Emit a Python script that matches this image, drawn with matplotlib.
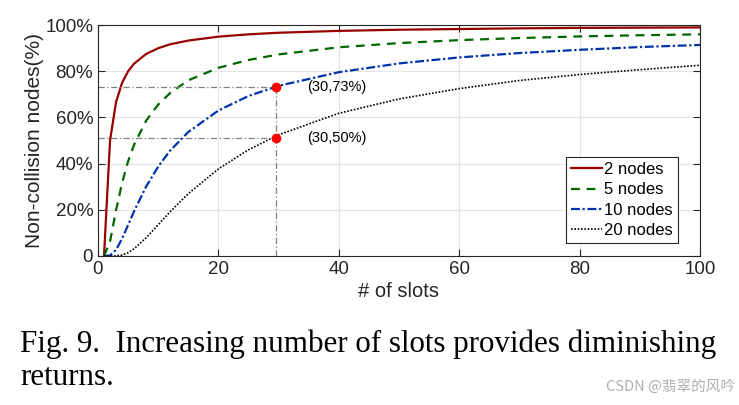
import matplotlib.pyplot as plt

# values
slots = [1, 2, 3, 4, 5, 6, 8, 10, 12, 15, 20, 25, 30, 40, 50, 60, 70, 80, 90, 100]
nodes2 = [0, 50, 66.7, 75, 80, 83.3, 87.5, 90, 91.7, 93.3, 95, 96, 96.7, 97.5, 98, 98.3, 98.6, 98.8, 98.9, 99]
nodes5 = [0, 6.3, 19.8, 31.6, 41, 48.2, 58.6, 65.6, 70.6, 76.1, 81.5, 84.9, 87.3, 90.4, 92.2, 93.5, 94.4, 95.1, 95.6, 96]
nodes10 = [0, 0.2, 2.6, 7.5, 13.4, 19.4, 30.1, 38.7, 45.7, 53.7, 63, 69.3, 73.7, 79.6, 83.4, 86, 87.9, 89.3, 90.5, 91.4]
nodes20 = [0, 0, 0.05, 0.4, 1.4, 3.1, 7.9, 13.5, 19.2, 27, 37.7, 46, 52.5, 61.8, 68, 72.5, 76, 78.6, 80.7, 82.6]
marks_x = [29.6, 29.6]
marks_y = [73, 51]
mark_labels = ['(30,73%)', '(30,50%)']

plt.rcParams['font.family'] = ['Liberation Sans', 'DejaVu Sans']

fig = plt.figure(figsize=(7.39, 4.05), dpi=100)
ax = fig.add_axes([0.1326, 0.368, 0.8146, 0.570])

ax.plot(slots, nodes2, color='#990000', lw=1.6, label='2 nodes')
ax.plot(slots, nodes5, color='#006600', lw=1.6, ls=(0, (4, 3)), label='5 nodes')
ax.plot(slots, nodes10, color='#0033aa', lw=1.6, ls=(0, (4, 1.2, 1, 1.2)), label='10 nodes')
ax.plot(slots, nodes20, color='black', lw=1.2, ls=(0, (1, 1)), label='20 nodes')

# guide lines to the marked points
for x, y in zip(marks_x, marks_y):
    ax.plot([0, x], [y, y], color='gray', lw=0.9, ls=(0, (5, 2, 1, 2)))
ax.plot([marks_x[0], marks_x[0]], [0, max(marks_y)], color='gray', lw=0.9, ls=(0, (5, 2, 1, 2)))
ax.plot(marks_x, marks_y, 'o', color='red', ms=6, zorder=5)
for x, y, t in zip(marks_x, marks_y, mark_labels):
    ax.text(x + 5.2, y, t, fontsize=10.5, va='center', ha='left')

ax.set_xlim(0, 100)
ax.set_ylim(0, 100)
ax.set_xticks(range(0, 101, 20))
ax.set_yticks(range(0, 101, 20))
ax.set_yticklabels(['0', '20%', '40%', '60%', '80%', '100%'])
ax.tick_params(direction='in', top=True, right=True, labelsize=13.5, length=5, colors='#262626')
ax.grid(True, color='#e3e3e3', lw=0.8)
ax.set_axisbelow(True)
for s in ax.spines.values():
    s.set_color('#262626')
ax.set_xlabel('# of slots', fontsize=14.5, labelpad=3, color='#262626')
ax.set_ylabel('Non-collision nodes(%)', fontsize=15, labelpad=1, color='#262626')

leg = ax.legend(loc='lower right', bbox_to_anchor=(0.963, 0.056), borderaxespad=0,
                fontsize=12, fancybox=False, framealpha=1, edgecolor='#262626',
                handlelength=1.9, handletextpad=0.1, labelspacing=0.32, borderpad=0.3)
leg.get_frame().set_linewidth(0.8)

fig.text(0.027, 0.151, 'Fig. 9.  Increasing number of slots provides diminishing',
         fontsize=22.3, family='Liberation Serif', va='center', ha='left')
fig.text(0.027, 0.067, 'returns.', fontsize=22.3, family='Liberation Serif', va='center', ha='left')
fig.text(0.995, 0.045, 'CSDN @翡翠的风吟', fontsize=10.5, color='#b0b0b0',
         family=['Noto Sans CJK SC', 'DejaVu Sans'], va='center', ha='right')

fig.savefig('out.png', dpi=100)
